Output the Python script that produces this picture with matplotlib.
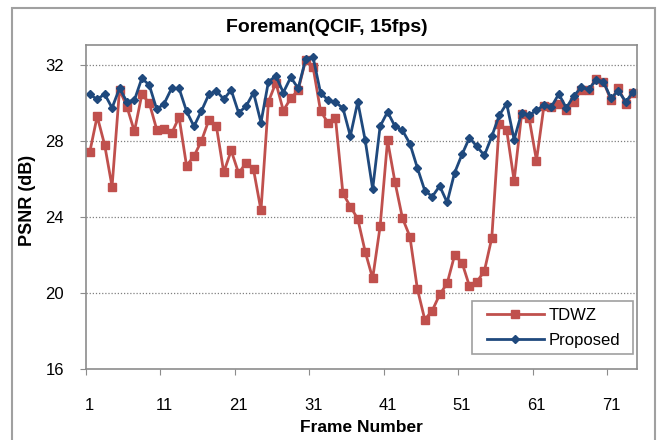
import matplotlib.pyplot as plt
from matplotlib.patches import Rectangle

plt.rcParams['font.family'] = ['Liberation Sans', 'DejaVu Sans']

frames = list(range(1, 75))

tdwz = [27.4, 29.3, 27.8, 25.6, 30.7, 29.8, 28.5, 30.45, 30.0, 28.6,
        28.65, 28.4, 29.25, 26.7, 27.2, 28.0, 29.1, 28.8, 26.35, 27.5,
        26.3, 26.85, 26.5, 24.35, 30.06, 31.07, 29.6, 30.24, 30.68, 32.26,
        31.88, 29.58, 28.95, 29.23, 25.25, 24.55, 23.9, 22.17, 20.77, 23.5,
        28.03, 25.83, 23.94, 22.97, 20.22, 18.6, 19.07, 19.92, 20.5, 21.98,
        21.6, 20.36, 20.59, 21.15, 22.9, 28.9, 28.56, 25.9, 29.4, 29.23,
        26.97, 29.83, 29.8, 29.92, 29.62, 30.06, 30.68, 30.68, 31.24, 31.12,
        30.15, 30.77, 29.97, 30.54]

proposed = [30.45, 30.19, 30.47, 29.74, 30.77, 30.06, 30.15, 31.3, 30.94, 29.66,
            29.97, 30.77, 30.77, 29.57, 28.77, 29.58, 30.45, 30.64, 30.2, 30.68,
            29.48, 29.83, 30.54, 28.97, 31.12, 31.42, 30.55, 31.35, 30.77, 32.3,
            32.4, 30.54, 30.15, 30.03, 29.74, 28.26, 30.06, 28.03, 25.47, 28.77,
            29.53, 28.77, 28.56, 27.86, 26.59, 25.39, 25.07, 25.63, 24.77, 26.32,
            27.29, 28.17, 27.71, 27.24, 28.24, 29.35, 29.97, 28.07, 29.48, 29.35,
            29.62, 29.88, 29.8, 30.47, 29.74, 30.36, 30.82, 30.71, 31.21, 31.12,
            30.24, 30.64, 30.06, 30.59]

yticks = [16, 20, 24, 28, 32]
xlabels = [1, 11, 21, 31, 41, 51, 61, 71]

red = '#C0504D'
blue = '#1F497D'
gray = '#8C8C8C'

fig = plt.figure(figsize=(6.59, 4.40), dpi=100)
fig.patches.append(Rectangle((0.018, -0.05), 0.976, 1.032, transform=fig.transFigure,
                             fill=False, edgecolor='#A0A0A0', linewidth=1.5))
ax = fig.add_axes([0.1305, 0.1614, 0.8361, 0.7363])

ax.plot(frames, tdwz, color=red, lw=2, marker='s', ms=6, label='TDWZ')
ax.plot(frames, proposed, color=blue, lw=2, marker='D', ms=4.5, label='Proposed')

ax.set_xlim(0.5, 74.5)
ax.set_ylim(16, 33.05)
ax.set_yticks(yticks)
for y in yticks[1:]:
    ax.axhline(y, color='#808080', lw=0.9, ls=(0, (1, 1.5)), zorder=0)

# category axis: tick marks between categories, labels on categories
ax.set_xticks([x - 0.5 for x in xlabels])
ax.set_xticklabels([])
ax.set_xticks(xlabels, minor=True)
ax.set_xticklabels([str(x) for x in xlabels], minor=True)
ax.tick_params(axis='x', which='major', direction='out', length=4, color=gray)
ax.tick_params(axis='x', which='minor', length=0, pad=21, labelsize=12)
ax.tick_params(axis='y', direction='out', length=4, color=gray, pad=12, labelsize=12)

for s in ax.spines.values():
    s.set_color(gray)
    s.set_linewidth(1.2)

fig.text(327 / 659, 1 - 28 / 440, 'Foreman(QCIF, 15fps)', fontsize=14,
         fontweight='bold', ha='center', va='center')
ax.set_xlabel('Frame Number', fontsize=12.5, fontweight='bold', labelpad=5)
ax.set_ylabel('PSNR (dB)', fontsize=13, fontweight='bold')
ax.yaxis.set_label_coords(-0.09, 0.52)

# legend frame drawn separately so the side padding matches
ax.add_patch(Rectangle((0.700, 0.046), 0.293, 0.164, transform=ax.transAxes,
                       facecolor='white', edgecolor='#A0A0A0', lw=1.2, zorder=5))
leg = ax.legend(loc='center', bbox_to_anchor=(0.849, 0.127), fontsize=12,
                frameon=False, handlelength=3.4, handletextpad=0.3,
                labelspacing=0.6, borderpad=0, borderaxespad=0)
leg.set_zorder(6)

fig.savefig('out.png', dpi=100)
